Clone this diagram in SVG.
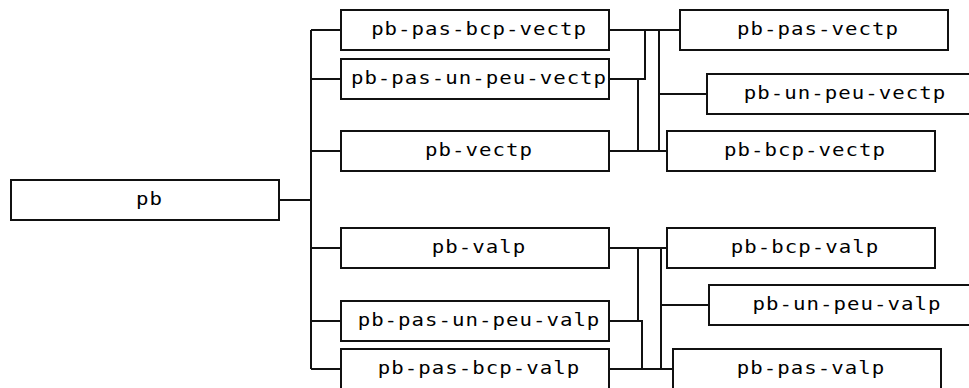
<svg xmlns="http://www.w3.org/2000/svg" width="969" height="388" viewBox="0 0 969 388">
<style>
.box{fill:#fff;stroke:#111;stroke-width:2}
.lbl{font-family:"DejaVu Sans Mono","Liberation Mono",monospace;font-size:18px;letter-spacing:0.9px;fill:#000;text-anchor:middle}
.c{fill:none;stroke:#111;stroke-width:2}
</style>
<rect width="969" height="388" fill="#fff"/>
<g id="connectors">
<path class="c" d="M279 200H311M311 30V369M311 30H341M311 79H341M311 151H341M311 248H341M311 321H341M311 369H341"/>
<path class="c" d="M609 30H680M609 79H645V30M638 79V151M609 151H667M659 30V151M659 94H707"/>
<path class="c" d="M609 248H667M638 248V321M609 321H642V369M661 248V369M661 305H709M609 369H673"/>
</g>
<g id="n-pb"><rect class="box" x="11" y="180" width="268" height="40"/><text class="lbl" transform="translate(149.5 205) scale(1.15 1)">pb</text></g>
<g id="n-pb-pas-bcp-vectp"><rect class="box" x="341" y="10" width="268" height="40"/><text class="lbl" transform="translate(479 35) scale(1.15 1)">pb-pas-bcp-vectp</text></g>
<g id="n-pb-pas-un-peu-vectp"><rect class="box" x="341" y="59" width="268" height="40"/><text class="lbl" transform="translate(479 84) scale(1.15 1)">pb-pas-un-peu-vectp</text></g>
<g id="n-pb-vectp"><rect class="box" x="341" y="131" width="268" height="40"/><text class="lbl" transform="translate(479 156) scale(1.15 1)">pb-vectp</text></g>
<g id="n-pb-valp"><rect class="box" x="341" y="228" width="268" height="40"/><text class="lbl" transform="translate(479 253) scale(1.15 1)">pb-valp</text></g>
<g id="n-pb-pas-un-peu-valp"><rect class="box" x="341" y="301" width="268" height="40"/><text class="lbl" transform="translate(479 326) scale(1.15 1)">pb-pas-un-peu-valp</text></g>
<g id="n-pb-pas-bcp-valp"><rect class="box" x="341" y="349" width="268" height="40"/><text class="lbl" transform="translate(479 374) scale(1.15 1)">pb-pas-bcp-valp</text></g>
<g id="n-pb-pas-vectp"><rect class="box" x="680" y="10" width="268" height="40"/><text class="lbl" transform="translate(818 35) scale(1.15 1)">pb-pas-vectp</text></g>
<g id="n-pb-un-peu-vectp"><rect class="box" x="707" y="74" width="268" height="40"/><text class="lbl" transform="translate(845 99) scale(1.15 1)">pb-un-peu-vectp</text></g>
<g id="n-pb-bcp-vectp"><rect class="box" x="667" y="131" width="268" height="40"/><text class="lbl" transform="translate(805 156) scale(1.15 1)">pb-bcp-vectp</text></g>
<g id="n-pb-bcp-valp"><rect class="box" x="667" y="228" width="268" height="40"/><text class="lbl" transform="translate(805 253) scale(1.15 1)">pb-bcp-valp</text></g>
<g id="n-pb-un-peu-valp"><rect class="box" x="709" y="285" width="268" height="40"/><text class="lbl" transform="translate(847 310) scale(1.15 1)">pb-un-peu-valp</text></g>
<g id="n-pb-pas-valp"><rect class="box" x="673" y="349" width="268" height="40"/><text class="lbl" transform="translate(811 374) scale(1.15 1)">pb-pas-valp</text></g>
</svg>
